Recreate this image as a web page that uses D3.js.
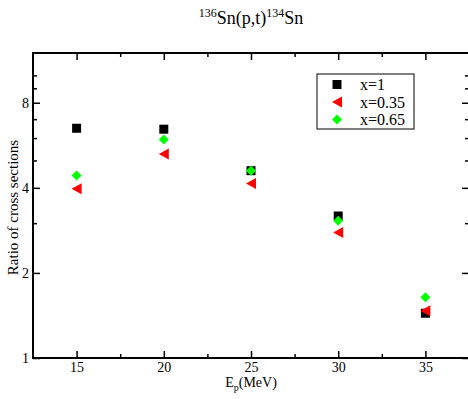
<!DOCTYPE html>
<html>
<head>
<meta charset="utf-8">
<script src="https://cdn.jsdelivr.net/npm/d3@7"></script>
<style>
  body { margin: 0; background: #fff; }
  svg text { font-family: "Liberation Serif", "DejaVu Serif", serif !important; fill: #000; }
</style>
</head>
<body>
<svg id="chart" width="468" height="399"></svg>
<script>
const energies = [15, 20, 25, 30, 35];
const seriesNames = ["x=1", "x=0.35", "x=0.65"];
const ratioX1 = [6.5, 6.45, 4.6, 3.18, 1.44];
const ratioX035 = [3.97, 5.27, 4.14, 2.78, 1.47];
const ratioX065 = [4.42, 5.93, 4.6, 3.06, 1.64];
const xMajorTicks = [15, 20, 25, 30, 35];
const xMinorTicks = [17.5, 22.5, 27.5, 32.5];
const yMajorTicks = [1, 2, 4, 8];
const yMinorTicks = [3, 5, 6, 7, 9, 10];

const series = [
  { name: seriesNames[0], values: ratioX1, color: "#000000", shape: "square" },
  { name: seriesNames[1], values: ratioX035, color: "#ff0000", shape: "triangle" },
  { name: seriesNames[2], values: ratioX065, color: "#00ff00", shape: "diamond" }
];

const L = 33, T = 53, R = 469, B = 358;
const svg = d3.select("#chart");

const x = d3.scaleLinear().domain([12.5, 37.5]).range([L, R]);
const y = d3.scaleLog().base(2).domain([1, 12]).range([B, T]);

// frame
svg.append("rect").attr("x", L).attr("y", T).attr("width", R - L).attr("height", B - T)
  .attr("fill", "none").attr("stroke", "#000").attr("stroke-width", 2);

function tickStyle(g) {
  g.attr("font-family", "Liberation Serif");
  g.select(".domain").remove();
  g.selectAll(".tick line").attr("stroke", "#000").attr("stroke-width", 1.5);
  g.selectAll(".tick text").attr("font-size", 14);
}

// bottom major
svg.append("g").attr("transform", `translate(0,${B})`)
  .call(d3.axisBottom(x).tickValues(xMajorTicks).tickFormat(d3.format("d")).tickSizeInner(-7).tickSizeOuter(0).tickPadding(4))
  .call(tickStyle);
// bottom minor
svg.append("g").attr("transform", `translate(0,${B})`)
  .call(d3.axisBottom(x).tickValues(xMinorTicks).tickFormat("").tickSizeInner(-4).tickSizeOuter(0))
  .call(tickStyle);
// top major/minor
svg.append("g").attr("transform", `translate(0,${T})`)
  .call(d3.axisTop(x).tickValues(xMajorTicks).tickFormat("").tickSizeInner(-7).tickSizeOuter(0))
  .call(tickStyle);
svg.append("g").attr("transform", `translate(0,${T})`)
  .call(d3.axisTop(x).tickValues(xMinorTicks).tickFormat("").tickSizeInner(-4).tickSizeOuter(0))
  .call(tickStyle);

// left
svg.append("g").attr("transform", `translate(${L},0)`)
  .call(d3.axisLeft(y).tickValues(yMajorTicks).tickFormat(d3.format("d")).tickSizeInner(-7).tickSizeOuter(0).tickPadding(4))
  .call(tickStyle);
svg.append("g").attr("transform", `translate(${L},0)`)
  .call(d3.axisLeft(y).tickValues(yMinorTicks).tickFormat("").tickSizeInner(-4).tickSizeOuter(0))
  .call(tickStyle);
// right
svg.append("g").attr("transform", `translate(${R},0)`)
  .call(d3.axisRight(y).tickValues(yMajorTicks).tickFormat("").tickSizeInner(-7).tickSizeOuter(0))
  .call(tickStyle);
svg.append("g").attr("transform", `translate(${R},0)`)
  .call(d3.axisRight(y).tickValues(yMinorTicks).tickFormat("").tickSizeInner(-4).tickSizeOuter(0))
  .call(tickStyle);

// markers
const symSquare = d3.symbol().type(d3.symbolSquare).size(81);
const symDiamond = d3.symbol().type(d3.symbolSquare).size(50);
function markerPath(shape) {
  if (shape === "square") return symSquare();
  if (shape === "diamond") return symDiamond();
  return "M-5,0L5,-5.5L5,5.5Z";
}
function markerTransform(shape, px, py) {
  return shape === "diamond" ? `translate(${px},${py}) rotate(45)` : `translate(${px},${py})`;
}

series.forEach(s => {
  svg.append("g").selectAll("path").data(s.values).join("path")
    .attr("d", markerPath(s.shape))
    .attr("transform", (v, i) => markerTransform(s.shape, x(energies[i]), y(v)))
    .attr("fill", s.color);
});

// legend
const lg = svg.append("g");
lg.append("rect").attr("x", 317).attr("y", 74).attr("width", 97).attr("height", 55)
  .attr("fill", "#fff").attr("stroke", "#000").attr("stroke-width", 1);
series.forEach((s, i) => {
  const cy = 84.5 + i * 17.5;
  lg.append("path").attr("d", markerPath(s.shape))
    .attr("transform", markerTransform(s.shape, 337, cy)).attr("fill", s.color);
  lg.append("text").attr("x", 360).attr("y", cy + 5.5).attr("font-size", 16).text(s.name);
});

// title
const title = svg.append("text").attr("x", 251).attr("y", 24).attr("text-anchor", "middle").attr("font-size", 18);
title.append("tspan").attr("font-size", 12).attr("dy", -7).text("136");
title.append("tspan").attr("dy", 7).text("Sn(p,t)");
title.append("tspan").attr("font-size", 12).attr("dy", -7).text("134");
title.append("tspan").attr("dy", 7).text("Sn");

// x label
const xl = svg.append("text").attr("x", 251).attr("y", 387).attr("text-anchor", "middle").attr("font-size", 14);
xl.append("tspan").text("E");
xl.append("tspan").attr("font-size", 10).attr("dy", 4).text("p");
xl.append("tspan").attr("dy", -4).text("(MeV)");

// y label
svg.append("text").attr("transform", `translate(18,${(T + B) / 2 + 2}) rotate(-90)`)
  .attr("text-anchor", "middle").attr("font-size", 15).text("Ratio of cross sections");
</script>
</body>
</html>
